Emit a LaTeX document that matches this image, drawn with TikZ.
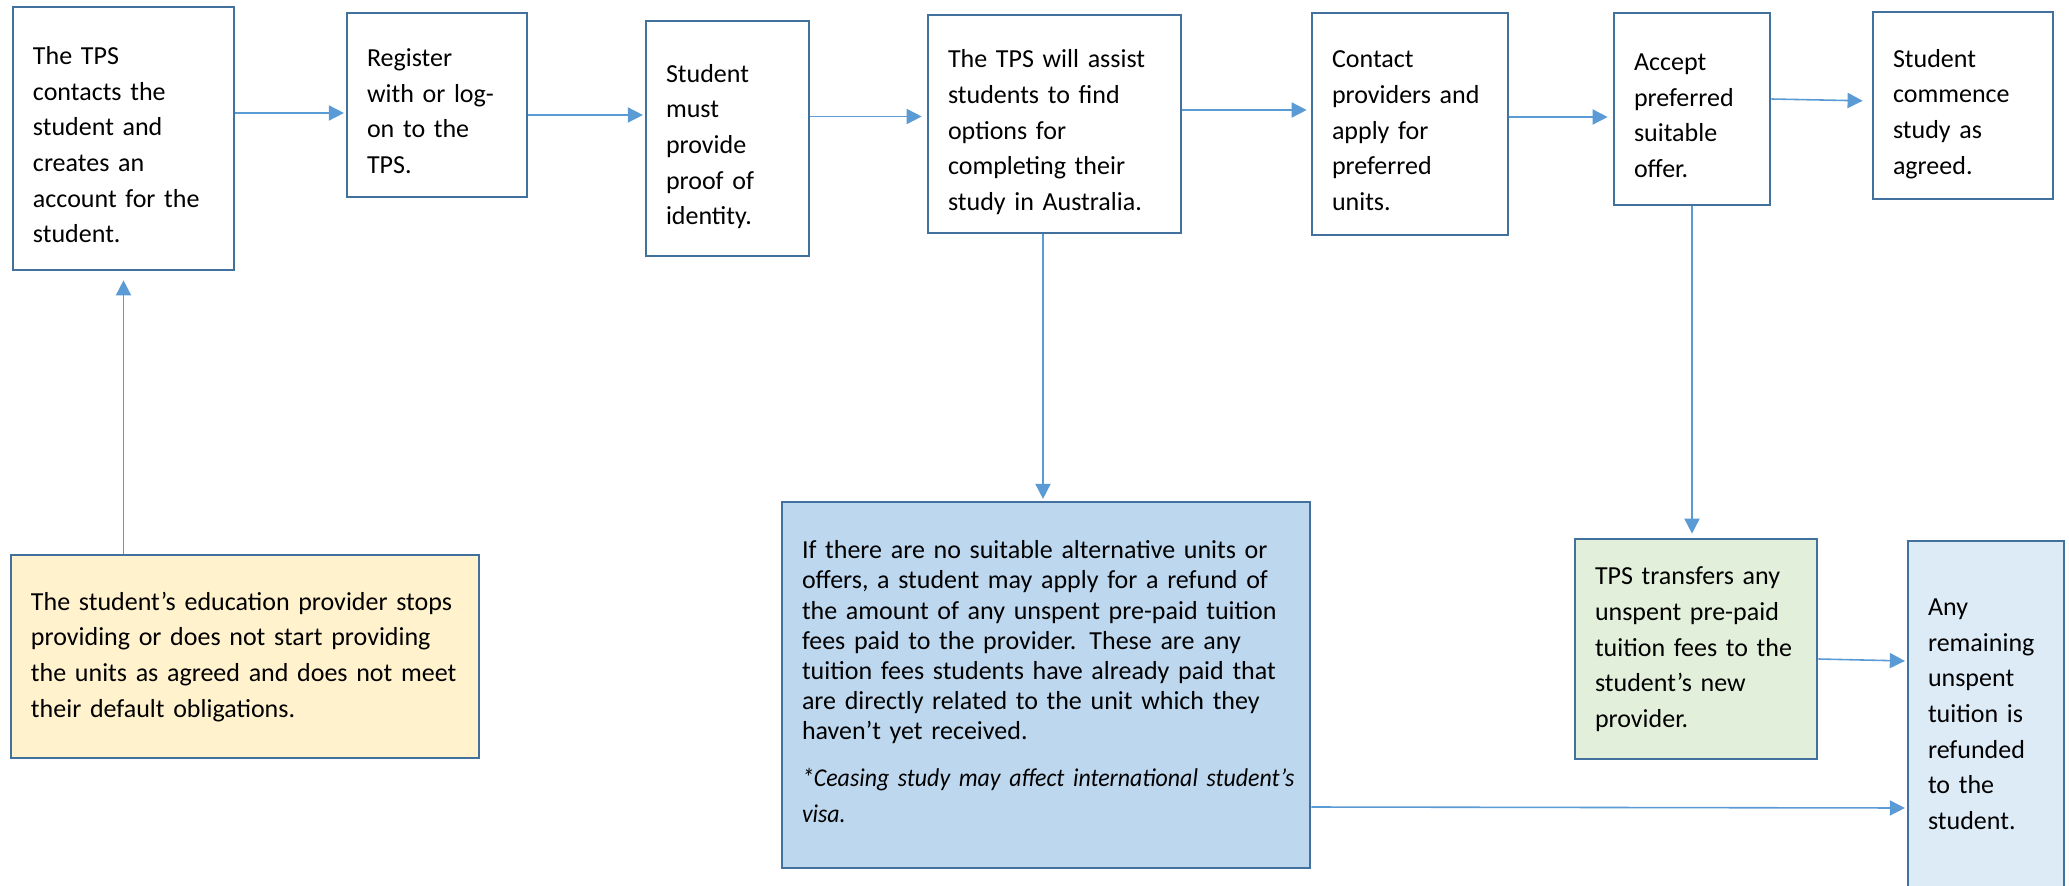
\documentclass[tikz,border=0pt]{standalone}
\usepackage{fontspec}
\setmainfont{Carlito}
\usetikzlibrary{arrows.meta}
\definecolor{boxline}{RGB}{65,113,156}
\definecolor{arrowblue}{RGB}{91,155,213}
\definecolor{noteyellow}{RGB}{255,242,204}
\definecolor{refundblue}{RGB}{189,215,238}
\definecolor{transfergreen}{RGB}{226,239,218}
\definecolor{paleblue}{RGB}{221,235,247}
\newcommand\textlines[2][0pt]{\raisebox{-#1}[\height][\depth]{\begin{tabular}{@{}l@{}}#2\end{tabular}}}

\begin{document}
\begin{tikzpicture}[>={Triangle[length=4.3pt,width=4.3pt]},shorten >=0.5pt,
					stage/.style 2 args={draw=boxline,line width=0.75pt,fill=white,align=left,
						inner xsep=0.2cm,inner ysep=0pt,text width=#1,minimum height=#2,
						font=\fontsize{7.4}{10.15}\selectfont},
					flow/.style={->,draw=arrowblue,line width=0.45pt}]
					\useasboundingbox (0,0) rectangle (20.69,-8.86);
					
					\node[stage={1.81cm}{2.63cm}] (contact)  at (1.235,-1.385) {\textlines[0.08cm]{The TPS\\contacts the\\student and\\creates an\\account for the\\student.}};
					\node[stage={1.40cm}{1.84cm}] (register) at (4.37,-1.05)   {\textlines[0.08cm]{Register\\with or log-\\on to the\\TPS.}};
					\node[stage={1.23cm}{2.35cm}] (proof)    at (7.275,-1.385) {\textlines[0.08cm]{Student\\must\\provide\\proof of\\identity.}};
					\node[stage={2.13cm}{2.18cm}] (assist)   at (10.545,-1.24) {\textlines[0.08cm]{The TPS will assist\\students to find\\options for\\completing their\\study in Australia.}};
					\node[stage={1.56cm}{2.22cm}] (apply)    at (14.10,-1.24)  {\textlines[0.08cm]{Contact\\providers and\\apply for\\preferred\\units.}};
					\node[stage={1.16cm}{1.92cm}] (accept)   at (16.92,-1.09)  {\textlines[0.08cm]{Accept\\preferred\\suitable\\offer.}};
					\node[stage={1.40cm}{1.87cm}] (commence) at (19.63,-1.055) {\textlines[0.08cm]{Student\\commence\\study as\\agreed.}};
					
					\node[stage={4.28cm}{2.03cm},fill=noteyellow] (stops) at (2.45,-6.565)
						{\textlines{The student’s education provider stops\\providing or does not start providing\\the units as agreed and does not meet\\their default obligations.}};
					\node[stage={4.88cm}{3.66cm},fill=refundblue] (refund) at (10.46,-6.85)
						{{\fontsize{7.4}{8.6}\selectfont\textlines{If there are no suitable alternative units or\\offers, a student may apply for a refund of\\the amount of any unspent pre-paid tuition\\fees paid to the provider. These are any\\tuition fees students have already paid that\\are directly related to the unit which they\\haven’t yet received.}}\par
						\vspace{2.8pt}{\fontsize{7.3}{10}\selectfont\itshape\addfontfeature{FakeStretch=0.93}\textlines{*Ceasing study may affect international student’s\\visa.}}};
					\node[stage={2.02cm}{2.20cm},fill=transfergreen] (transfer) at (16.96,-6.49)
						{\textlines{TPS transfers any\\unspent pre-paid\\tuition fees to the\\student’s new\\provider.}};
					\node[stage={1.16cm}{3.49cm},fill=paleblue] (remain) at (19.86,-7.155)
						{\textlines{Any\\remaining\\unspent\\tuition is\\refunded\\to the\\student.}};
					
					\draw[flow,shorten >=0.09cm] (stops.north -| contact.south) -- (contact.south);
					\draw[flow] (contact.east |- 0,-1.13) -- (register.west |- 0,-1.13);
					\draw[flow] (register.east |- 0,-1.15) -- (proof.west |- 0,-1.15);
					\draw[flow,shorten >=0.05cm] (proof.east |- 0,-1.165) -- (assist.west |- 0,-1.165);
					\draw[flow,shorten >=0.04cm] (assist.east |- 0,-1.10) -- (apply.west |- 0,-1.10);
					\draw[flow,shorten >=0.05cm] (apply.east |- 0,-1.17) -- (accept.west |- 0,-1.17);
					\draw[flow,shorten >=0.09cm] (accept.east |- 0,-0.99) -- (commence.west |- 0,-1.01);
					\draw[flow] (assist.south -| 10.43,0) -- (refund.north -| 10.43,0);
					\draw[flow,shorten >=0.04cm] (accept.south) -- (accept.south |- transfer.north);
					\draw[flow] (transfer.east |- 0,-6.59) -- (remain.west |- 0,-6.61);
					\draw[flow] (refund.east |- 0,-8.07) -- (remain.west |- 0,-8.08);
\end{tikzpicture}
\end{document}
